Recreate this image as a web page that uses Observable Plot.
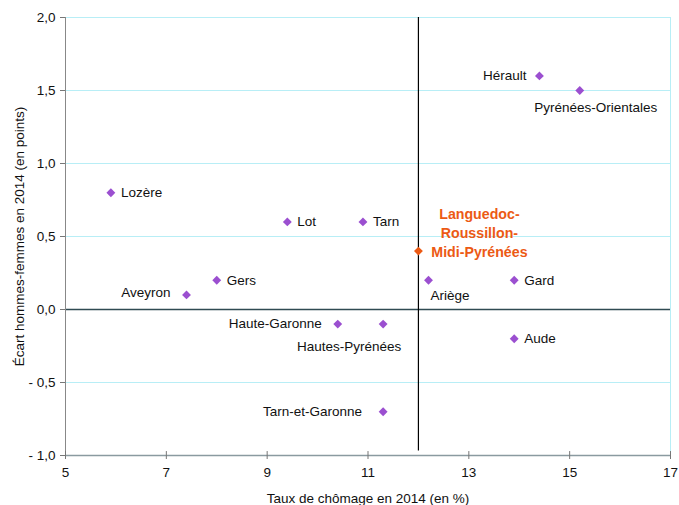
<!DOCTYPE html>
<html><head><meta charset="utf-8">
<script src="https://cdn.jsdelivr.net/npm/d3@7"></script>
<script src="https://cdn.jsdelivr.net/npm/@observablehq/plot@0.6"></script>
<style>body{margin:0;background:#fff;font-family:"Liberation Sans",Arial,sans-serif;}</style>
</head><body><div id="chart"></div>
<script>
const departements = ["Lozère","Aveyron","Gers","Lot","Tarn","Haute-Garonne","Hautes-Pyrénées","Tarn-et-Garonne","Ariège","Gard","Aude","Hérault","Pyrénées-Orientales"];
const chomage = [5.9, 7.4, 8.0, 9.4, 10.9, 10.4, 11.3, 11.3, 12.2, 13.9, 13.9, 14.4, 15.2];
const ecart = [0.8, 0.1, 0.2, 0.6, 0.6, -0.1, -0.1, -0.7, 0.2, 0.2, -0.2, 1.6, 1.5];
const region = "Languedoc-\nRoussillon-\nMidi-Pyrénées";
const regionChomage = 12.0;
const regionEcart = 0.4;
const xTicks = [5, 7, 9, 11, 13, 15, 17];
const yTicks = [-1, -0.5, 0, 0.5, 1, 1.5, 2];

const data = departements.map((d, i) => ({name: d, x: chomage[i], y: ecart[i]}));
// label placement (style only)
const place = {
  "Lozère": {textAnchor: "start", dx: 10, dy: 0},
  "Aveyron": {textAnchor: "end", dx: -16, dy: -2},
  "Gers": {textAnchor: "start", dx: 10, dy: 0},
  "Lot": {textAnchor: "start", dx: 10, dy: 0},
  "Tarn": {textAnchor: "start", dx: 10, dy: 0},
  "Haute-Garonne": {textAnchor: "end", dx: -16, dy: 0},
  "Hautes-Pyrénées": {textAnchor: "middle", dx: -34, dy: 23},
  "Tarn-et-Garonne": {textAnchor: "end", dx: -21, dy: 0},
  "Ariège": {textAnchor: "start", dx: 2, dy: 15},
  "Gard": {textAnchor: "start", dx: 10, dy: 0},
  "Aude": {textAnchor: "start", dx: 10, dy: 0},
  "Hérault": {textAnchor: "end", dx: -13, dy: 0},
  "Pyrénées-Orientales": {textAnchor: "middle", dx: 16, dy: 17}
};
const fr = v => (v < 0 ? "- " : "") + Math.abs(v).toFixed(1).replace(".", ",");
const FS = 13.5;

const textMarks = data.map(d => {
  const p = place[d.name];
  return Plot.text([d], {x: "x", y: "y", text: "name", textAnchor: p.textAnchor, dx: p.dx, dy: p.dy, fontSize: FS, fill: "#111"});
});

const chart = Plot.plot({
  width: 679, height: 505,
  marginLeft: 65, marginRight: 9, marginTop: 17, marginBottom: 50,
  style: {fontFamily: "'Liberation Sans', Arial, sans-serif", fontSize: FS + "px", color: "#111", background: "#fff"},
  x: {domain: [5, 17], ticks: xTicks},
  y: {domain: [-1, 2], ticks: yTicks},
  marks: [
    Plot.ruleY(yTicks.filter(v => v !== 0 && v !== -1), {stroke: "#b8eef6", strokeWidth: 1}),
    Plot.ruleX([17], {stroke: "#b8eef6"}),
    Plot.ruleY([0], {stroke: "#2f4a52", strokeWidth: 1.5}),
    Plot.ruleY([-1], {stroke: "#8a9aa0", strokeWidth: 1.5}),
    Plot.ruleX([5], {stroke: "#888"}),
    Plot.ruleX([regionChomage], {stroke: "#000", strokeWidth: 1.2, y1: -0.97, y2: 2}),
    Plot.axisX({ticks: xTicks, tickSize: 4, tickPadding: 8, tickFormat: d => d, label: null, stroke: "#777"}),
    Plot.ruleX(xTicks, {x: d => d, y1: -1, y2: -0.973, stroke: "#777"}),
    Plot.axisY({ticks: yTicks, tickSize: 5, tickPadding: 5, tickFormat: fr, label: null, stroke: "#777"}),
    Plot.dot(data, {x: "x", y: "y", symbol: "diamond2", r: 4, fill: "#9b4fd0"}),
    Plot.dot([{x: regionChomage, y: regionEcart}], {x: "x", y: "y", symbol: "diamond2", r: 4, fill: "#ec5a14"}),
    ...textMarks,
    Plot.text([{x: regionChomage, y: regionEcart, t: region}], {x: "x", y: "y", text: "t", textAnchor: "middle", lineAnchor: "middle", dx: 61, dy: -19, lineHeight: 1.33, fontWeight: "bold", fontSize: 14.2, fill: "#ec5a14"}),
    Plot.text([{x: 11, y: -1, t: "Taux de chômage en 2014 (en %)"}], {x: "x", y: "y", dy: 43, text: "t", fontSize: FS, fill: "#111"}),
    Plot.text([{x: 5, y: 0.5, t: "Écart hommes-femmes en 2014 (en points)"}], {x: "x", y: "y", dx: -46, rotate: -90, text: "t", fontSize: FS, fill: "#111"})
  ]
});
document.getElementById("chart").append(chart);
</script></body></html>
